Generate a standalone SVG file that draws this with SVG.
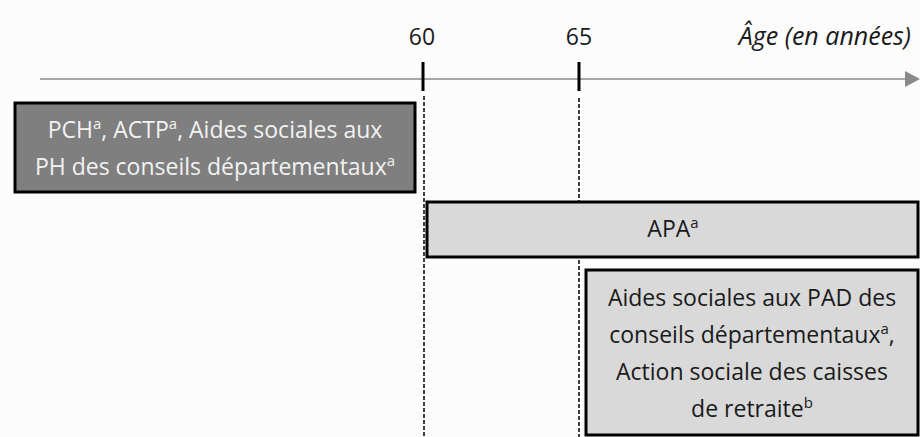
<svg xmlns="http://www.w3.org/2000/svg" width="920" height="437" viewBox="0 0 920 437">
<style>
.t{font-family:"Open Sans","Liberation Sans",sans-serif;font-size:23px;fill:#1a1a1a;text-anchor:middle}
.w{fill:#f2f2f2}
.sup{font-size:15px}
.box{stroke:#000;stroke-width:3}
.dash{stroke:#000;stroke-width:1.5;stroke-dasharray:4 2;fill:none}
.tick{stroke:#000;stroke-width:3}
</style>
<rect x="0" y="0" width="920" height="437" fill="#fcfcfc"/>
<g id="axis">
<line x1="40" y1="79" x2="906" y2="79" stroke="#8a8a8a" stroke-width="1.5"/>
<polygon points="905,71 920,79 905,87" fill="#8a8a8a"/>
<text class="t" x="911" y="45" style="text-anchor:end;font-style:italic;font-size:25px">Âge (en années)</text>
</g>
<g id="tick60">
<line class="tick" x1="423" y1="62" x2="423" y2="91"/>
<text class="t" x="422" y="45">60</text>
</g>
<g id="tick65">
<line class="tick" x1="579" y1="62" x2="579" y2="91"/>
<text class="t" x="579" y="45">65</text>
</g>
<g id="connectors">
<line class="dash" x1="424" y1="96" x2="424" y2="437"/>
<line class="dash" x1="579" y1="98" x2="579" y2="437"/>
</g>
<g id="box-ph">
<rect class="box" x="15" y="103" width="400" height="89" fill="#7f7f7f"/>
<text class="t w" x="215" y="138">PCH<tspan class="sup" dy="-9">a</tspan><tspan dy="9">, ACTP</tspan><tspan class="sup" dy="-9">a</tspan><tspan dy="9">, Aides sociales aux</tspan></text>
<text class="t w" x="215" y="175">PH des conseils départementaux<tspan class="sup" dy="-9">a</tspan></text>
</g>
<g id="box-apa">
<rect class="box" x="427" y="202" width="491" height="55" fill="#d9d9d9"/>
<text class="t" x="673" y="237">APA<tspan class="sup" dy="-9">a</tspan></text>
</g>
<g id="box-pad">
<rect class="box" x="586" y="270" width="332" height="165" fill="#d9d9d9"/>
<text class="t" x="752" y="306">Aides sociales aux PAD des</text>
<text class="t" x="752" y="343">conseils départementaux<tspan class="sup" dy="-9">a</tspan><tspan dy="9">,</tspan></text>
<text class="t" x="752" y="380">Action sociale des caisses</text>
<text class="t" x="752" y="417">de retraite<tspan class="sup" dy="-9">b</tspan></text>
</g>
</svg>
